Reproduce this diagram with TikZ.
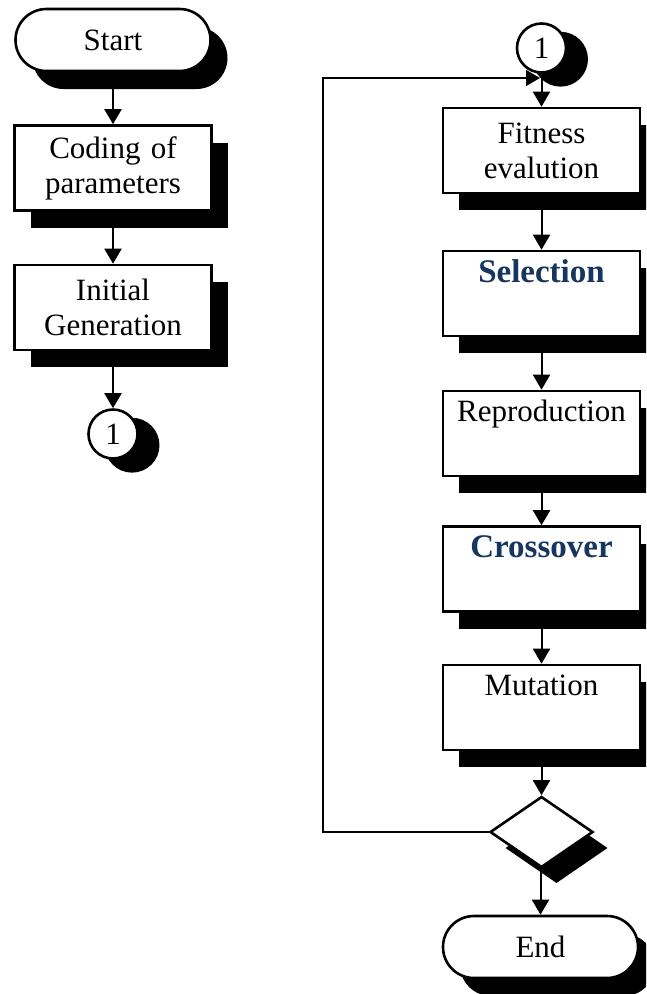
\documentclass[tikz,border=0pt]{standalone}
\usepackage{fontspec}
\setmainfont{Liberation Serif}
\usetikzlibrary{shapes.geometric,shapes.misc,arrows.meta,shadows}
\definecolor{hdblue}{HTML}{17365D}
\newcommand{\hdtext}[1]{{\fontsize{33pt}{35pt}\selectfont\bfseries\color{hdblue}#1}}
\begin{document}
\begin{tikzpicture}[x=1pt,y=-1pt,
 base/.style={draw=black, line width=2.6pt, fill=white, font=\fontsize{31pt}{35pt}\selectfont, align=center, inner sep=0pt},
 procbox/.style={base, rectangle, minimum width=197pt, minimum height=85pt, text width=195pt,
   drop shadow={shadow xshift=16pt, shadow yshift=-17pt, fill=black, opacity=1}},
 term/.style={base, rounded rectangle, minimum width=195pt, minimum height=62pt,
   drop shadow={shadow xshift=17pt, shadow yshift=-18pt, fill=black, opacity=1}},
 conn/.style={base, circle, minimum size=49pt,
   drop shadow={shadow xshift=17pt, shadow yshift=-10pt, shadow scale=1.12, fill=black, opacity=1}},
 decision/.style={base, diamond, minimum width=103pt, minimum height=71pt,
   drop shadow={shadow xshift=15pt, shadow yshift=-16pt, fill=black, opacity=1}},
 flow/.style={line width=2pt, -{Triangle[width=17pt,length=15pt]}},
 back/.style={line width=1.5pt, -{Triangle[width=16pt,length=14pt]}}
]
\clip (0,0) rectangle (646,994);
% left column
\node[term] (start) at (113,40) {Start};
\node[procbox] (coding) at (113,168) {Coding of\\parameters};
\node[procbox] (init) at (113,307.5) {Initial\\Generation};
\node[conn] (c1) at (113,434) {1};
% right column
\node[conn] (c2) at (541.5,48) {1};
\node[procbox] (fit) at (541.5,150.5) {Fitness\\evalution};
\node[procbox] (sel) at (541.5,293.5) {\hdtext{Selection}\\\strut};
\node[procbox] (rep) at (541.5,433.5) {Reproduction\\\strut};
\node[procbox] (cross) at (541.5,569) {\hdtext{Crossover}\\\strut};
\node[procbox] (mut) at (541.5,707.5) {Mutation\\\strut};
\node[decision] (dec) at (541.5,832) {};
\node[term] (end) at (540.5,947) {End};
% connectors
\draw[flow] (start.south) -- (coding.north);
\draw[flow] (coding.south) -- (init.north);
\draw[flow] (init.south) -- (c1.north);
\draw[flow] (c2.south) -- (fit.north);
\draw[flow] (fit.south) -- (sel.north);
\draw[flow] (sel.south) -- (rep.north);
\draw[flow] (rep.south) -- (cross.north);
\draw[flow] (cross.south) -- (mut.north);
\draw[flow] (mut.south) -- (dec.north);
\draw[flow] (dec.south) -- (end.north |- dec.south) -- (end.north);
\coordinate (lx) at (323,78);
\coordinate (jn) at (540,78);
\draw[back] (dec.west) -| (lx) -- (jn);
\end{tikzpicture}
\end{document}
